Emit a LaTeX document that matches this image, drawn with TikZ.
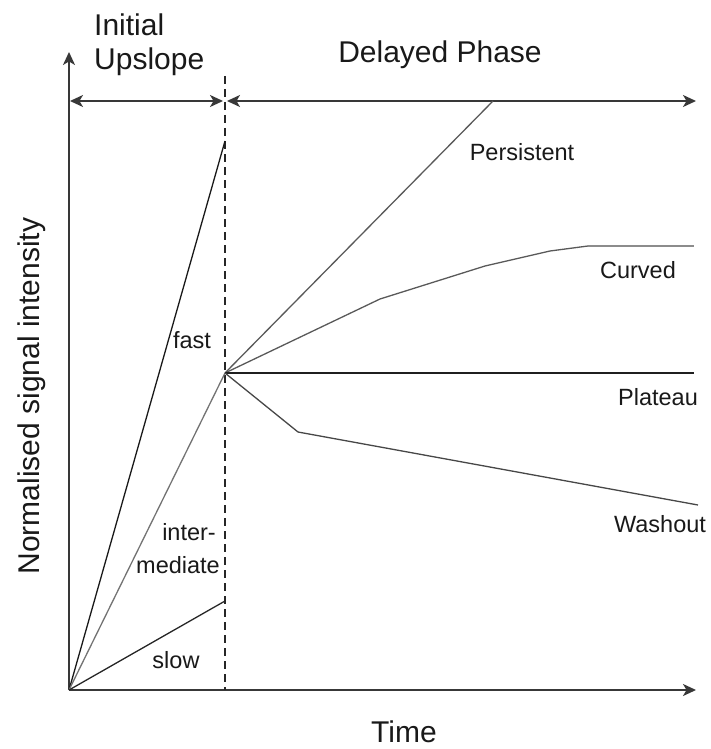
\documentclass[tikz,border=0pt]{standalone}
\usepackage{fontspec}
\setmainfont{Liberation Sans}
\usetikzlibrary{arrows.meta}
\begin{document}
\begin{tikzpicture}[x=1pt,y=-1pt,
  head/.tip={Stealth[length=13pt,width=12pt,inset=3.5pt]},
  axis/.style={draw=black!78, line width=1.7pt},
  tip/.style={-head},
  span/.style={head-head, draw=black!78, line width=1.7pt},
  divider/.style={draw=black!85, line width=1.2pt, dash pattern=on 8pt off 5pt},
  curve/.style={line width=1.3pt, line join=round},
  big/.style={font=\fontsize{30}{34}\selectfont, text=black!90, inner sep=0pt},
  small/.style={font=\fontsize{23.5}{33}\selectfont, text=black!90, inner sep=0pt}]
\useasboundingbox (0,0) rectangle (710,749);

% axes
\coordinate (O) at (69,690);
\coordinate (ytop) at (69,52);
\coordinate (xend) at (696,690);
\draw[axis, tip] (O) -- (ytop);
\draw[axis, tip] (O) -- (xend);

% phase boundary
\coordinate (dtop) at (225,76);
\coordinate (dbot) at (225,690);
\draw[divider] (dtop) -- (dbot);

% phase spans
\coordinate (s1a) at (70,101);
\coordinate (s1b) at (223,101);
\coordinate (s2a) at (227,101);
\coordinate (s2b) at (696,101);
\draw[span] (s1a) -- (s1b);
\draw[span] (s2a) -- (s2b);

% initial upslope
\coordinate (fastend) at (225,141);
\coordinate (P) at (225,373);
\coordinate (slowend) at (225,601);
\draw[curve, draw=black!90] (O) -- (fastend);
\draw[curve, draw=black!55] (O) -- (P);
\draw[curve, draw=black!85] (O) -- (slowend);

% delayed phase
\coordinate (persend) at (493,101);
\coordinate (c1) at (380,299);
\coordinate (c2) at (485,266);
\coordinate (c3) at (550,251);
\coordinate (c4) at (588,246);
\coordinate (curvend) at (694,246);
\coordinate (platend) at (694,373);
\coordinate (wknee) at (298,432);
\coordinate (washend) at (698,505);
\draw[curve, draw=black!65] (P) -- (persend);
\draw[curve, draw=black!65] (P) -- (c1) -- (c2) -- (c3) -- (c4);
\draw[curve, draw=black!45] (c4) -- (curvend);
\draw[curve, draw=black!88] (P) -- (platend);
\draw[curve, draw=black!72] (P) -- (wknee) -- (washend);

% labels
\node[big, anchor=base west] (initial) at (94,36) {Initial};
\node[big, anchor=base west] (upslope) at (94,70) {Upslope};
\node[big, anchor=base] (delayed) at (440,63) {Delayed Phase};
\node[big, anchor=base] (time) at (404,742) {Time};
\node[big, anchor=base, rotate=90] (ylab) at (39,396) {Normalised signal intensity};

\node[small, anchor=base] (persistent) at (522,160) {Persistent};
\node[small, anchor=base] (curved) at (638,278) {Curved};
\node[small, anchor=base] (plateau) at (658,405) {Plateau};
\node[small, anchor=base] (washout) at (660,532) {Washout};
\node[small, anchor=base] (fast) at (192,348) {fast};
\node[small, anchor=base east] (inter) at (216,540) {inter-};
\node[small, anchor=base east] (mediate) at (220,573) {mediate};
\node[small, anchor=base] (slow) at (176,668) {slow};
\end{tikzpicture}
\end{document}
